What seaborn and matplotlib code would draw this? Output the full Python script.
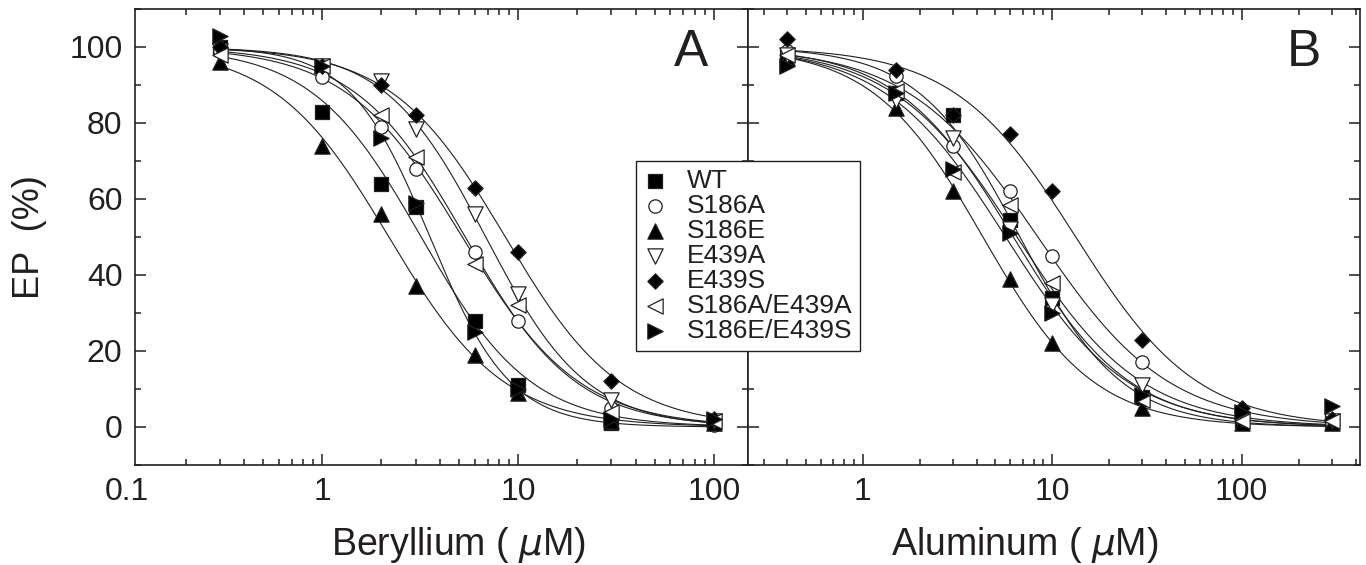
import numpy as np
import pandas as pd
import matplotlib
matplotlib.use("Agg")
import matplotlib.pyplot as plt
from matplotlib.ticker import MultipleLocator, LogLocator, NullFormatter, FuncFormatter
import seaborn as sns

# ---------------- data ----------------
series = ["WT", "S186A", "S186E", "E439A", "E439S", "S186A/E439A", "S186E/E439S"]

be_conc = [0.3, 1, 2, 3, 6, 10, 30, 100]
be_WT = [100, 83, 64, 58, 28, 11, 1, 1]
be_S186A = [99, 92, 79, 68, 46, 28, 5, 0.5]
be_S186E = [96, 74, 56, 37, 19, 9, 1.5, 1]
be_E439A = [99, 95, 91, 78.5, 56, 35, 7, 1.5]
be_E439S = [100, 95, 90, 82, 63, 46, 12, 2]
be_S186A_E439A = [98, 95, 82, 71, 43, 32, 4, 1.5]
be_S186E_E439S = [103, 95, 76, 59, 25, 10, 2, 2]

al_conc = [0.4, 1.5, 3, 6, 10, 30, 100, 300]
al_WT = [98, 88, 82, 54.5, 34, 8, 1.5, 1]
al_S186A = [99, 92.5, 74, 62, 45, 17, 2, 1]
al_S186E = [97, 84, 62, 39, 22, 5, 1, 1]
al_E439A = [98, 86, 76, 52, 32, 11, 2, 1.5]
al_E439S = [102, 94, 82, 77, 62, 23, 5, 2]
al_S186A_E439A = [98, 88.5, 67, 58.5, 38, 7, 1.5, 1.5]
al_S186E_E439S = [95, 88, 68, 51, 30, 8.5, 4, 5.5]

be_values = [be_WT, be_S186A, be_S186E, be_E439A, be_E439S, be_S186A_E439A, be_S186E_E439S]
al_values = [al_WT, al_S186A, al_S186E, al_E439A, al_E439S, al_S186A_E439A, al_S186E_E439S]

# marker styles: (marker, face, size in points)
styles = {
    "WT": ("s", "black", 9.5),
    "S186A": ("o", "white", 9.6),
    "S186E": ("^", "black", 11),
    "E439A": ("v", "white", 11),
    "E439S": ("D", "black", 7.8),
    "S186A/E439A": ("<", "white", 11),
    "S186E/E439S": (">", "black", 11),
}

def long_table(conc, values):
    rows = []
    for name, vals in zip(series, values):
        for c, v in zip(conc, vals):
            rows.append((name, c, v))
    return pd.DataFrame(rows, columns=["series", "conc", "ep"])

df_be = long_table(be_conc, be_values)
df_al = long_table(al_conc, al_values)

def fit_hill(x, y):
    lx = np.log10(np.asarray(x, float))
    y = np.asarray(y, float)
    lc = np.linspace(-1.5, 3.0, 901)
    nn = np.linspace(0.3, 4.0, 371)
    LC, N = np.meshgrid(lc, nn, indexing="ij")
    pred = 100.0 / (1.0 + 10 ** (N[..., None] * (lx - LC[..., None])))
    sse = ((pred - y) ** 2).sum(-1)
    i, j = np.unravel_index(np.argmin(sse), sse.shape)
    return lc[i], nn[j]

# ---------------- style ----------------
sns.set_style("ticks")
plt.rcParams["font.family"] = ["Liberation Sans", "DejaVu Sans"]
plt.rcParams["mathtext.fontset"] = "custom"
plt.rcParams["mathtext.it"] = "DejaVu Sans:italic"
plt.rcParams["mathtext.rm"] = "Liberation Sans"
INK = "#231f20"

W, H = 1366, 565
fig = plt.figure(figsize=(W / 100, H / 100), dpi=100)
ax1 = fig.add_axes([135 / W, 100 / H, 612.5 / W, 456 / H])
ax2 = fig.add_axes([747.6 / W, 100 / H, 612.4 / W, 456 / H])

def draw_panel(ax, df, conc, xlim, letter, xlabel, xlab_x):
    for name in series:
        sub = df[df.series == name]
        lc, n = fit_hill(sub.conc, sub.ep)
        xx = np.logspace(np.log10(min(conc)), np.log10(max(conc)), 300)
        yy = 100.0 / (1.0 + 10 ** (n * (np.log10(xx) - lc)))
        sns.lineplot(x=xx, y=yy, color=INK, lw=0.8, ax=ax, legend=False,
                     estimator=None, sort=False, zorder=2)
    for name in series:
        sub = df[df.series == name]
        m, fc, ms = styles[name]
        sns.scatterplot(x=sub.conc, y=sub.ep, marker=m, s=ms ** 2, color=fc,
                        edgecolor=INK, linewidth=0.9, ax=ax, legend=False,
                        label=name, zorder=3, clip_on=False)
    ax.set_xscale("log")
    ax.set_xlim(*xlim)
    ax.set_ylim(-10, 110)
    ax.xaxis.set_major_locator(LogLocator(base=10, numticks=10))
    ax.xaxis.set_minor_locator(LogLocator(base=10, subs=np.arange(2, 10), numticks=20))
    ax.xaxis.set_major_formatter(FuncFormatter(lambda v, p: "%g" % v))
    ax.xaxis.set_minor_formatter(NullFormatter())
    ax.yaxis.set_major_locator(MultipleLocator(20))
    ax.yaxis.set_minor_locator(MultipleLocator(10))
    ax.tick_params(which="both", direction="in", top=True, right=True,
                   colors=INK, labelsize=23, width=1.1)
    ax.tick_params(which="major", length=8, pad=9)
    ax.tick_params(which="minor", length=4.5)
    for sp in ax.spines.values():
        sp.set_visible(True)
        sp.set_linewidth(1.2)
        sp.set_color(INK)
    ax.set_xlabel(xlabel, fontsize=27, color=INK, va="center")
    ax.xaxis.set_label_coords(xlab_x, -0.175)
    ax.set_ylabel("")
    ax.text(0.908, 0.905, letter, transform=ax.transAxes, fontsize=37,
            ha="center", va="center", color=INK)

draw_panel(ax1, df_be, be_conc, (0.1104, 148.7), "A", r"Beryllium ( $\mu$M)", 0.528)
draw_panel(ax2, df_al, al_conc, (0.247, 422), "B", r"Aluminum ( $\mu$M)", 0.452)

# panel A: "0.1" label sits just left of the axis start
ax1.annotate("0.1", xy=(0.1, 0), xycoords=("data", "axes fraction"),
             xytext=(0, -9), textcoords="offset points", ha="center", va="top",
             fontsize=23, color=INK, annotation_clip=False)

ax1.set_ylabel("EP  (%)", fontsize=26, color=INK, va="center")
ax1.yaxis.set_label_coords(-0.172, 0.5)
ax2.tick_params(labelleft=False)

handles, labels = ax1.get_legend_handles_labels()
leg = fig.legend(handles, labels, loc="upper left",
                 bbox_to_anchor=(636 / W, 1 - 161 / H), bbox_transform=fig.transFigure,
                 borderaxespad=0, frameon=True, fancybox=False, framealpha=1,
                 edgecolor=INK, fontsize=19, borderpad=0.3, handlelength=0.84,
                 handletextpad=0.79, labelspacing=0.04, scatterpoints=1)
leg.get_frame().set_linewidth(1.0)
for t in leg.get_texts():
    t.set_color(INK)
leg.set_zorder(10)

fig.savefig("out.png", dpi=100)
